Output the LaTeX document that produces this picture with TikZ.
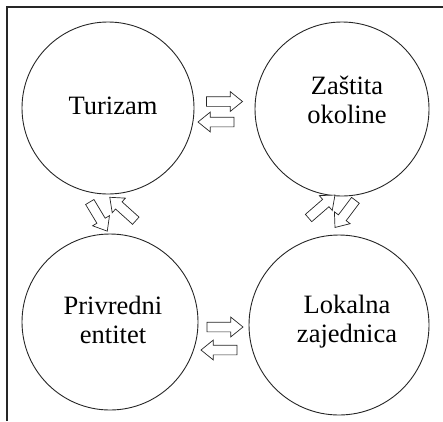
\documentclass[tikz,border=0pt]{standalone}
\usepackage{fontspec}
\setmainfont{Liberation Serif}
\usetikzlibrary{shapes.arrows}
\begin{document}
\begin{tikzpicture}[x=1pt,y=-1pt,
  ring/.style={draw=black!85,line width=0.9pt,circle,inner sep=0pt},
  label/.style={align=center,inner sep=0pt,font=\fontsize{26.5}{29}\selectfont},
  flow/.style={draw=black!85,line width=0.7pt,fill=white,shape=single arrow,
    inner xsep=0pt,inner ysep=4.5pt,minimum height=#1,
    single arrow head extend=5pt,single arrow tip angle=78},
  flow/.default=36pt]
  \useasboundingbox (0,0) rectangle (443,421);
  % frame: top and left rules only
  \draw[line width=1.1pt,black!85] (7,421) coordinate (fb) -- (7,7) coordinate (fc) -- (443,7) coordinate (fr);

  % the four spheres
  \node[ring,minimum size=172pt] (tur) at (108,108) {};
  \node[ring,minimum size=174pt] (zas) at (342,109) {};
  \node[ring,minimum size=176pt] (pri) at (110,322) {};
  \node[ring,minimum size=180pt] (lok) at (339,325) {};

  \node[label] (turT) at (113,106) {Turizam};
  \node[label] (zasT) at (347,100) {Zaštita\\okoline};
  \node[label] (priT) at (113,320) {Privredni\\entitet};
  \node[label] (lokT) at (347,322) {Lokalna\\zajednica};

  % two-way exchanges between neighbouring spheres
  \node[flow] (a1) at (221.5,101.5) {};
  \node[flow,rotate=180] (a2) at (219,122) {};
  \node[flow] (a3) at (222,327) {};
  \node[flow,rotate=180] (a4) at (222,350) {};
  \node[flow=34pt,rotate=-59] (a5) at (97,214) {};
  \node[flow=35pt,rotate=138] (a6) at (125,211) {};
  \node[flow=35pt,rotate=41] (a7) at (319.5,208.5) {};
  \node[flow=34pt,rotate=-127] (a8) at (347,211.5) {};
\end{tikzpicture}
\end{document}
